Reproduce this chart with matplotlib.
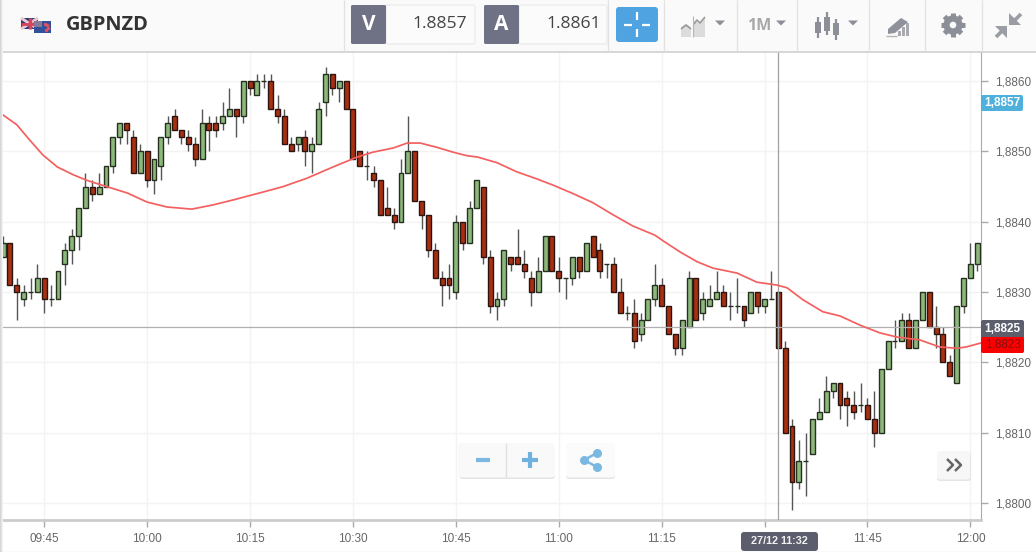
import numpy as np
import matplotlib
matplotlib.use('Agg')
import matplotlib.pyplot as plt
from matplotlib.patches import FancyBboxPatch, Rectangle, Polygon, Circle

# prices are given in pips above 1.8800, one candle per minute from 09:39
opens = [35,37,31,29,30,30,32,29,29,34,36,38,42,45,44,45,48,52,54,52,47,50,46,48,52,55,53,52,51,49,
         54,54,54,55,56,55,60,58,60,60,56,55,51,51,52,50,51,57,61,59,60,56,50,48,47,46,42,41,40,47,
         50,43,41,36,32,32,30,40,37,42,45,35,28,29,35,35,34,32,30,33,38,33,32,32,35,33,38,36,34,34,
         30,27,27,24,26,29,31,28,24,22,25,32,27,28,29,30,28,28,28,27,30,28,29,30,22,11,3,6,7,12,
         13,16,17,15,14,14,14,12,10,19,23,23,26,22,26,30,25,24,20,17,28,32,34]
closes = [37,31,30,30,30,32,29,29,33,36,38,42,45,44,45,48,52,54,53,47,50,46,49,52,54,53,52,51,49,54,
          53,53,55,56,55,60,59,60,60,56,55,51,50,52,50,51,56,61,59,60,56,49,48,48,46,41,41,40,47,50,
          43,41,36,32,31,31,40,37,42,46,35,28,29,36,34,34,33,30,33,38,33,32,32,35,33,37,35,33,34,30,
          27,27,23,26,29,31,28,24,22,26,32,26,29,29,30,28,28,28,26,30,28,29,29,22,10,3,6,6,12,13,
          16,17,14,14,13,14,12,10,19,23,23,26,22,26,30,25,24,20,18,28,32,34,37]
highs = [38,37,32,31,32,34,32,31,33,37,39,42,47,46,47,48,52,54,54,53,51,50,49,52,55,56,53,53,52,56,
         55,55,57,59,56,60,60,61,61,61,58,56,52,52,53,52,57,62,61,60,60,56,50,50,48,46,45,42,49,55,
         50,43,41,37,33,34,41,40,43,46,45,36,30,36,35,39,36,33,35,38,38,35,32,35,35,37,38,37,34,35,
         32,28,29,27,29,34,32,28,24,26,33,32,30,31,33,31,30,32,28,30,30,29,33,30,23,12,9,10,12,15,
         18,17,17,16,16,17,15,16,19,23,26,27,27,26,30,30,28,25,21,28,32,37,37]
lows = [35,31,26,28,29,30,27,28,29,31,34,36,42,43,44,45,47,51,51,47,47,45,44,46,51,53,51,50,48,49,
        50,52,53,55,52,54,58,58,59,56,54,51,50,50,48,47,51,55,58,57,56,49,48,46,45,41,41,39,40,47,
        43,39,35,32,28,29,29,36,37,42,34,27,26,28,33,34,32,28,30,33,33,30,29,31,32,33,35,32,32,30,
        27,26,22,23,26,28,28,24,21,21,25,26,26,28,29,28,26,27,25,27,27,27,29,22,10,-1,2,1,7,12,
        13,15,12,11,12,13,12,8,10,19,22,23,22,22,26,25,22,20,18,17,27,32,33]

# moving average, candle position and pips above 1.8800
ma_x = [-0.45,2.0,3.9,5.8,7.9,10.2,12.2,15.1,18.1,21,23.9,27.5,30.6,33.5,37.4,40.8,44.3,48.1,
        51.6,53.9,56.9,58.9,60.8,63.2,65.6,67.6,69.2,72,74.9,77.8,80.2,83.1,86,88.9,91.8,95,96.5,
        98.7,101.2,103.5,107,109.9,112.8,114.3,116.6,119.5,122,124.9,127.8,130.3,133.6,136.5,139,140.4,142.7]
ma_y = [55.5,53.8,51.6,49.5,47.8,46.7,45.9,45.0,44.1,42.8,42.1,41.8,42.4,43.1,44.1,45.0,46.2,47.8,
        49.2,49.9,50.5,51.2,51.2,50.6,49.9,49.4,49.2,48.4,47.1,46.1,45.2,44.0,42.7,41.0,39.4,38.1,37.1,
        35.7,34.3,33.4,32.7,31.4,31.0,30.6,28.9,27.2,26.6,25.3,24.2,23.6,23.2,22.2,22.0,22.2,22.8]

time_pos = [6,21,36,51,66,81,96,111,126,141]
time_labels = ['09:45','10:00','10:15','10:30','10:45','11:00','11:15','11:30','11:45','12:00']
price_ticks = [1.8800,1.8810,1.8820,1.8830,1.8840,1.8850,1.8860]

W, H = 1036, 552
plt.rcParams['font.family'] = ['Liberation Sans', 'DejaVu Sans']
fig = plt.figure(figsize=(W/100, H/100), dpi=100, facecolor='white')

# chart area: px 0-981 across, 52-520 down
ax = fig.add_axes([0, (H-520)/H, 981/W, 468/H])
ax.set_xlim(-0.452, 142.55)
ax.set_ylim(1.88 + -2.42/10000, 1.88 + 64.15/10000)

o = 1.88 + np.array(opens)/10000
c = 1.88 + np.array(closes)/10000
h = 1.88 + np.array(highs)/10000
l = 1.88 + np.array(lows)/10000
k = np.arange(len(o))
up = c >= o

ax.set_axisbelow(True)
ax.grid(color='#f3f3f3', lw=1)
ax.vlines(k, l, h, color='#555555', lw=1.0, zorder=2)
ax.bar(k[up], (c-o)[up], bottom=o[up], width=0.72, color='#8db87c', edgecolor='#26301f', lw=1.0, zorder=3)
ax.bar(k[~up], (c-o)[~up], bottom=o[~up], width=0.72, color='#a82f10', edgecolor='#2a1510', lw=1.0, zorder=3)

ax.axhline(1.8825, color='#b0b0b0', lw=0.9, zorder=4)
ax.axvline(113, color='#a0a0a0', lw=0.9, zorder=4)
ax.plot(ma_x, 1.88 + np.array(ma_y)/10000, color='#f46060', lw=1.25, zorder=5)

ax.set_xticks(time_pos)
ax.set_xticklabels(time_labels)
ax.set_yticks(price_ticks)
ax.set_yticklabels([('%.4f' % p).replace('.', ',') for p in price_ticks])
ax.yaxis.tick_right()
ax.tick_params(axis='x', length=5, width=1, color='#aaaaaa', labelcolor='#666666', labelsize=8.5, pad=4)
ax.tick_params(axis='y', length=5, width=1, color='#aaaaaa', labelcolor='#666666', labelsize=8.5, pad=5)
for s in ['top', 'left']:
    ax.spines[s].set_visible(False)
ax.spines['right'].set_color('#aaaaaa')
ax.spines['bottom'].set_color('#cccccc')
ax.spines['bottom'].set_linewidth(2)

# overlay in pixel coordinates for the toolbar, buttons and tags
ov = fig.add_axes([0, 0, 1, 1], facecolor='none')
ov.set_xlim(0, W)
ov.set_ylim(H, 0)
ov.axis('off')


def box(x0, y0, x1, y1, fc, ec='none', r=2, lw=1, z=6):
    ov.add_patch(FancyBboxPatch((x0, y0), x1-x0, y1-y0, boxstyle='round,pad=0,rounding_size=%s' % r,
                                fc=fc, ec=ec, lw=lw, zorder=z))


def line(xs, ys, col, lw=1, z=7, cap='butt'):
    ov.plot(xs, ys, color=col, lw=lw, zorder=z, solid_capstyle=cap)


def tri(x, y, col='#8c8f98', w=5, hh=5):
    ov.add_patch(Polygon([(x-w, y), (x+w, y), (x, y+hh)], fc=col, ec='none', zorder=7))


# toolbar
ov.add_patch(Rectangle((0, 0), W, 51, fc='#fafafa', ec='none', zorder=5))
line([0, W], [51.5, 51.5], '#cfcfcf', 1.2)
for sx in [344, 608, 664, 737, 797, 869, 925, 982]:
    line([sx, sx], [0, 51], '#e2e2e2', 1)
# left shadow
for i, col in enumerate(['#d6d6d6', '#e4e4e4', '#f2f2f2']):
    ov.add_patch(Rectangle((i, 0), 1, 552, fc=col, ec='none', zorder=8))

# flags
ov.add_patch(Rectangle((21, 18), 17, 11, fc='#2a3a7c', ec='none', zorder=7))
line([21, 38], [18, 29], '#e8c8d0', 2.2)
line([21, 38], [29, 18], '#e8c8d0', 2.2)
line([29.5, 29.5], [18, 29], '#d8455a', 2.5)
line([21, 38], [23.5, 23.5], '#d8455a', 2)
ov.add_patch(Rectangle((34, 21), 17, 12, fc='#33509a', ec='none', zorder=8))
ov.add_patch(Rectangle((34, 21), 8, 6, fc='#8a7a9a', ec='none', zorder=8))
ov.scatter([45, 47, 48, 46], [24, 25, 28, 30], s=2, color='#e05060', zorder=9)

ov.text(66, 25, 'GBPNZD', family='Open Sans', weight='bold', fontsize=14.4, color='#333333', va='center', ha='left', zorder=9)

# bid / ask
box(386, 5, 475, 44, '#fbfbfb', '#ececec', 2)
box(351, 5, 386, 44, '#6f7285', r=1.5)
ov.text(368.5, 25, 'V', family='Open Sans', weight='bold', fontsize=15, color='white', ha='center', va='center', zorder=9)
ov.text(467, 24.5, '1.8857', family='Open Sans', fontsize=12.6, color='#444444', ha='right', va='center', zorder=9)
box(519, 5, 607, 44, '#fbfbfb', '#ececec', 2)
box(484, 5, 519, 44, '#6f7285', r=1.5)
ov.text(501.5, 25, 'A', family='Open Sans', weight='bold', fontsize=15, color='white', ha='center', va='center', zorder=9)
ov.text(601, 24.5, '1.8861', family='Open Sans', fontsize=12.6, color='#444444', ha='right', va='center', zorder=9)

# crosshair button
box(616, 7, 658, 42, '#4fa3e0', r=3)
line([624, 632], [24.5, 24.5], 'white', 1.6, 9)
line([642, 650], [24.5, 24.5], 'white', 1.6, 9)
line([637, 637], [12, 20], 'white', 1.6, 9)
line([637, 637], [29, 37], 'white', 1.6, 9)

# chart type icon
ov.add_patch(Polygon([(681, 37), (681, 27), (686, 24), (691, 27), (691, 37)], fc='#dcdcdc', ec='none', zorder=7))
ov.add_patch(Polygon([(694, 37), (694, 21), (700, 23), (705, 18), (705, 37)], fc='#dcdcdc', ec='none', zorder=7))
line([681, 686, 691], [29, 25, 29], '#9a9a9a', 1.2)
line([694, 697, 700, 705], [24, 20, 23, 17], '#9a9a9a', 1.2)
line([692.5, 692.5], [16, 37], '#b5b5b5', 0.8)
tri(720, 20.5)

ov.text(759, 26, '1M', family='Open Sans', weight='bold', fontsize=11.5, color='#a8a8a8', ha='center', va='center', zorder=9)
tri(781, 20.5)

# candle icon
for cx, y0, y1, b0, b1 in [(818, 17, 38, 22, 33), (827, 12, 35, 17, 31), (836, 19, 40, 23, 35)]:
    line([cx, cx], [y0, y1], '#8c8f98', 1.6)
    ov.add_patch(Rectangle((cx-3, b0), 6, b1-b0, fc='#8c8f98', ec='none', zorder=7))
tri(853, 20.5)

# pen icon
ov.add_patch(Polygon([(888, 29), (901, 18), (908, 22), (895, 33), (888, 34)], fc='#8f929a', ec='none', zorder=7))
ov.add_patch(Rectangle((898, 31), 3, 5, fc='#a8aab0', ec='none', zorder=7))
ov.add_patch(Rectangle((902, 27), 3, 9, fc='#a8aab0', ec='none', zorder=7))
ov.add_patch(Rectangle((906, 23), 3, 13, fc='#a8aab0', ec='none', zorder=7))
line([886, 897], [36, 36], '#b5b5b5', 1)

# gear
for a in np.arange(8)*np.pi/4:
    line([953+6*np.cos(a), 953+12*np.cos(a)], [25+6*np.sin(a), 25+12*np.sin(a)], '#8c8f98', 3.6)
ov.add_patch(Circle((953, 25), 6.5, fc='#fafafa', ec='#8c8f98', lw=4.5, zorder=8))

# shrink arrows
line([1021, 1012], [14, 23], '#9a9da4', 2.6)
ov.add_patch(Polygon([(1009, 13), (1009, 25), (1021, 25)], fc='#9a9da4', ec='none', zorder=7))
line([996, 1004], [37, 29], '#9a9da4', 2.6)
ov.add_patch(Polygon([(995, 26), (1007, 26), (1007, 38)], fc='#9a9da4', ec='none', zorder=7))

# price tags
box(981, 95, 1023, 111, '#4fb0dc', r=2)
ov.text(1002.5, 103.5, '1,8857', fontsize=8.5, weight='bold', color='white', ha='center', va='center', zorder=9)
box(981, 320, 1024, 339, '#5c5e6e', r=2)
ov.text(1002.5, 329.5, '1,8825', fontsize=8.5, weight='bold', color='white', ha='center', va='center', zorder=9)
box(981, 337, 1024, 353, '#fb0000', r=2, z=7)
ov.text(1002.5, 344.5, '1,8823', fontsize=8.5, color='#8a0f0f', ha='center', va='center', zorder=9)

# time tag
box(741, 532, 818, 551, '#5c5e6e', r=3, z=8)
ov.text(779.5, 541, '27/12 11:32', fontsize=7.8, weight='bold', color='#f0f0f0', ha='center', va='center', zorder=9)
line([0, W], [551.5, 551.5], '#e8e8e8', 1)

# zoom and share buttons
box(459, 445, 555, 479, '#e4e4e4', r=3, z=5.5)
box(458, 443, 555, 477.5, '#f9f9f9', r=3)
line([505.5, 505.5], [443, 477], '#e0e0e0', 1)
line([476, 490], [460, 460], '#7ab8e2', 3)
line([522, 538], [460, 460], '#6fb2e0', 3)
line([530, 530], [452, 468], '#6fb2e0', 3)
box(566, 445, 615, 479, '#e4e4e4', r=3, z=5.5)
box(566, 443, 615, 477.5, '#fbfbfb', r=3)
line([597, 584, 597], [453, 460, 467], '#7ab8e2', 1.8)
ov.scatter([597, 584, 597], [453, 460, 467], s=30, color='#7ab8e2', zorder=8)

# scroll button
box(937, 452, 971, 481, '#e4e4e4', r=3, z=5.5)
box(937, 451, 970, 479.5, '#f7f7f7', r=3)
line([947, 953, 947], [459, 465, 471], '#666666', 1.8)
line([955, 961, 955], [459, 465, 471], '#666666', 1.8)

fig.savefig('out.png', dpi=100)
